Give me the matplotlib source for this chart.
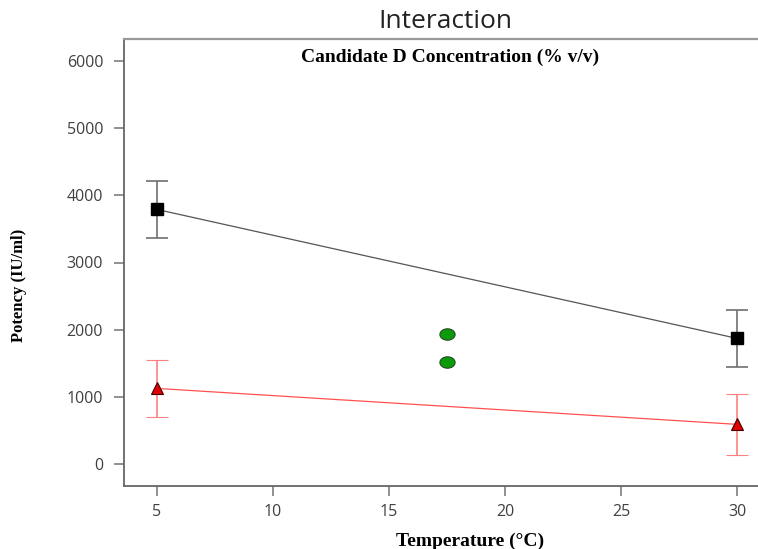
import numpy as np
import matplotlib
matplotlib.use("Agg")
import matplotlib.pyplot as plt
from matplotlib.path import Path

# Temperature levels and mean potency for the two concentration levels
temperature = [5, 30]
potency_high = [3790, 1870]
err_high = [425, 425]
potency_low = [1125, 590]
err_low = [430, 455]

# Centre points
center_temp = [17.5, 17.5]
center_potency = [1935, 1520]

x_ticks = [5, 10, 15, 20, 25, 30]
y_ticks = [0, 1000, 2000, 3000, 4000, 5000, 6000]

W, H = 758, 549
fig = plt.figure(figsize=(W / 100, H / 100), dpi=100)

def px(x, y):
    return x / W, 1 - y / H

left, right, top, bottom = 124, 766, 39, 486
ax = fig.add_axes([left / W, 1 - bottom / H, (right - left) / W, (bottom - top) / H])

# Elliptical marker for the centre points
t = np.linspace(0, 2 * np.pi, 60)
ellipse = Path(np.column_stack([np.cos(t), 0.75 * np.sin(t)]), closed=True)

ax.errorbar(temperature, potency_high, yerr=err_high, color="#555555", lw=0.9,
            ecolor="#707070", elinewidth=1.2, capsize=8, capthick=1.2,
            marker="s", ms=8.5, mfc="black", mec="black", zorder=3)
ax.errorbar(temperature, potency_low, yerr=err_low, color="#ff5050", lw=0.9,
            ecolor="#ff8080", elinewidth=1.2, capsize=8, capthick=1.2,
            marker="^", ms=9, mfc="#e00000", mec="#400000", mew=0.8, zorder=3)
ax.plot(center_temp, center_potency, ls="none", marker=ellipse, ms=11,
        mfc="#0a9a0a", mec="#204020", mew=0.7, zorder=3)

ax.set_xlim(3.58, 31.25)
ax.set_ylim(-328, 6328)
ax.set_xticks(x_ticks)
ax.set_yticks(y_ticks)

ax.spines["right"].set_visible(False)
ax.spines["top"].set_color("#999999")
ax.spines["top"].set_linewidth(1.6)
for s in ["left", "bottom"]:
    ax.spines[s].set_color("#666666")
    ax.spines[s].set_linewidth(1.3)

ax.tick_params(axis="both", colors="#888888", length=7, width=1.3,
               labelcolor="#404040", labelsize=11.5)
ax.tick_params(axis="y", pad=8)
ax.tick_params(axis="x", pad=6)
for lab in ax.get_xticklabels() + ax.get_yticklabels():
    lab.set_family("Open Sans")

fig.text(*px(445, 21), "Interaction", ha="center", va="center",
         family="Open Sans", fontsize=19, color="#222222")
fig.text(*px(450, 57), "Candidate D Concentration (% v/v)", ha="center",
         va="center", family="Liberation Serif", fontweight="bold",
         fontsize=14, color="black")
fig.text(*px(470, 541), "Temperature (\u00b0C)", ha="center", va="center",
         family="Liberation Serif", fontweight="bold", fontsize=14,
         color="black")
fig.text(*px(19, 285), "Potency (IU/ml)", ha="center", va="center",
         rotation=90, family="Liberation Serif", fontweight="bold",
         fontsize=12, color="black")

fig.savefig("out.png", dpi=100)
